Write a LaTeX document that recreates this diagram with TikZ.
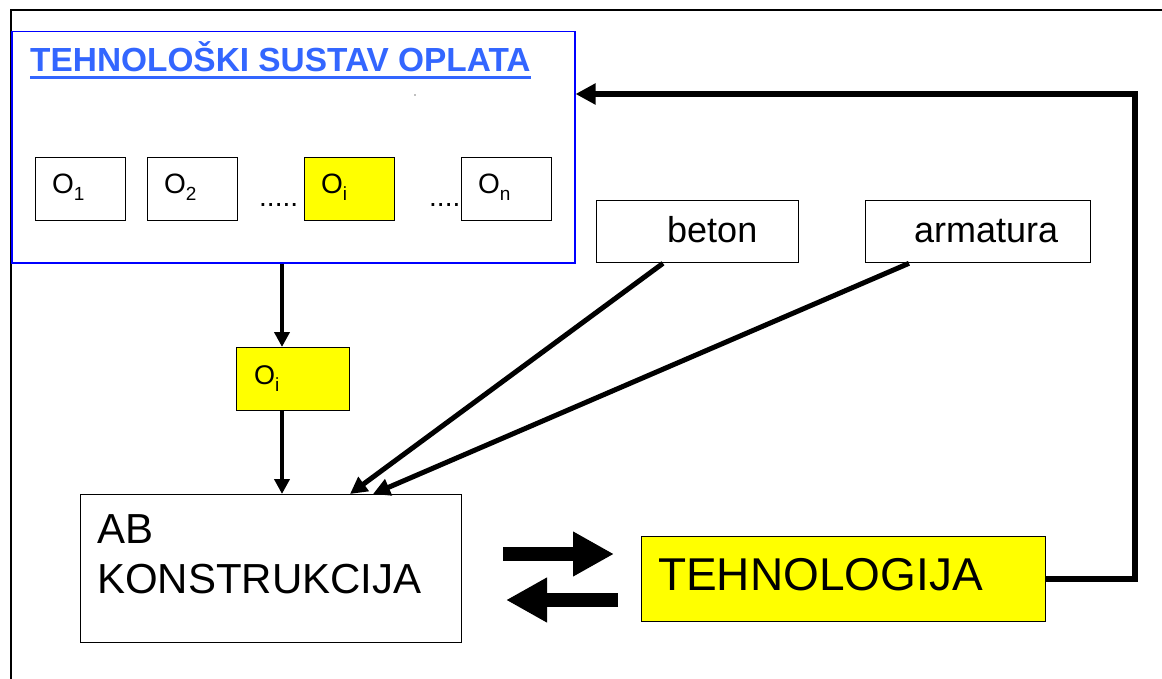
\documentclass[tikz,border=0pt]{standalone}
\usepackage{fontspec}
\setmainfont{Liberation Sans}
\usetikzlibrary{arrows.meta}
\definecolor{titleblue}{RGB}{51,102,255}
\definecolor{boxblue}{RGB}{0,0,255}
\definecolor{hl}{RGB}{255,255,0}
\newcommand\fsz[1]{\fontsize{#1}{#1}\selectfont}
\newcommand\subs[2]{\raisebox{-#2}{\fsz{19}#1}}
\begin{document}
\begin{tikzpicture}[x=1pt,y=-1pt,
  box/.style={draw=black, line width=1.3pt, inner sep=0pt, anchor=north west},
  lbl/.style={anchor=base west, inner sep=0pt},
  conn/.style={line width=4pt, -{Triangle[length=15pt,width=15pt]}},
  diag/.style={line width=5pt, -{Triangle[length=17pt,width=17pt]}},
  fb/.style={line width=6pt, line join=miter, -{Triangle[length=20pt,width=20pt]}},
  fat/.style={line width=14pt, -{Triangle[length=41pt,width=42pt]}}]
\useasboundingbox (0,0) rectangle (1162,679);
\fill[white] (0,0) rectangle (1162,679);
% outer frame (top and left only)
\draw[line width=1.5pt] (1162,10) -- (11,10) -- (11,679);

% technological system box
\node[box, draw=boxblue, line width=1.5pt, minimum width=563pt, minimum height=231pt] (sustav) at (11,31) {};
\node[lbl, font=\fsz{33.4}\bfseries, text=titleblue] (title) at (30,72) {TEHNOLOŠKI SUSTAV OPLATA};
\draw[titleblue, line width=3.5pt] ([yshift=-5.5pt]title.base west) -- ([yshift=-5.5pt]title.base east);
\fill[gray] (415,95) circle (0.8);

% small formwork boxes
\node[box, minimum width=90pt, minimum height=63pt] (o1) at (35,157) {};
\node[box, minimum width=90pt, minimum height=63pt] (o2) at (147,157) {};
\node[box, fill=hl, minimum width=90pt, minimum height=63pt] (oi) at (304,157) {};
\node[box, minimum width=90pt, minimum height=63pt] (on) at (461,157) {};
\node[lbl, font=\fsz{28}] (t1) at (52,194) {O\subs{1}{7pt}};
\node[lbl, font=\fsz{28}] (t2) at (164,194) {O\subs{2}{7pt}};
\node[lbl, font=\fsz{28}] (ti) at (321,194) {O\subs{i}{7pt}};
\node[lbl, font=\fsz{28}] (tn) at (478,194) {O\subs{n}{7pt}};
\node[lbl, font=\fsz{28}] (d1) at (259,207) {.....};
\node[lbl, font=\fsz{28}] (d2) at (429,207) {....};

% selected formwork
\node[box, fill=hl, minimum width=113pt, minimum height=63pt] (oim) at (236,347) {};
\node[lbl, font=\fsz{27}] (tim) at (254,384) {O\subs{i}{7pt}};

% AB construction
\node[box, minimum width=381pt, minimum height=148pt] (ab) at (80,494) {};
\node[lbl, font=\fsz{42}] (ab1) at (97,543) {AB};
\node[lbl, font=\fsz{42}] (ab2) at (97,593) {KONSTRUKCIJA};

% technology
\node[box, fill=hl, minimum width=404pt, minimum height=85pt] (tech) at (641,536) {};
\node[lbl, font=\fsz{46}] (tt) at (658,590) {TEHNOLOGIJA};

% materials
\node[box, minimum width=202pt, minimum height=62pt] (beton) at (596,200) {};
\node[lbl, font=\fsz{36}] (tb) at (667,243) {beton};
\node[box, minimum width=225pt, minimum height=62pt] (arm) at (865,200) {};
\node[lbl, font=\fsz{36}] (ta) at (914,243) {armatura};

% connectors
\coordinate (vx) at (282,0);
\draw[conn] (sustav.south -| vx) -- (oim.north -| vx);
\draw[conn] (oim.south -| vx) -- (ab.north -| vx);
\draw[diag] ([xshift=67pt]beton.south west) -- ([xshift=270pt]ab.north west);
\draw[diag] ([xshift=44pt]arm.south west) -- ([xshift=293pt]ab.north west);
\coordinate (fbc) at (1135,94);
\draw[fb] (tech.east) -| (fbc) -- (sustav.east |- fbc);

% exchange arrows
\coordinate (r0) at (503,554);
\coordinate (r1) at (614,554);
\coordinate (l0) at (618,600);
\coordinate (l1) at (506,600);
\draw[fat] (r0) -- (r1);
\draw[fat] (l0) -- (l1);
\end{tikzpicture}
\end{document}
